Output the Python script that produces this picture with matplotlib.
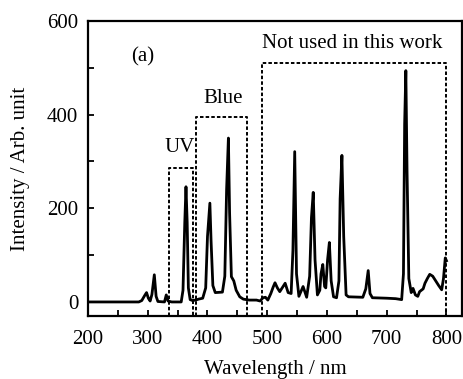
import matplotlib
matplotlib.use("Agg")
import matplotlib.pyplot as plt
from matplotlib.ticker import MultipleLocator

plt.rcParams['font.family'] = ['Liberation Serif', 'DejaVu Serif']

# Spectrum points (wavelength nm, intensity)
wavelength = [200, 260, 285, 290, 295, 298, 301, 304, 307, 311, 314, 317, 328, 331, 334,
              340, 356, 359, 362, 364, 366, 368, 371, 375, 380, 385, 392, 397, 400, 404,
              406, 409, 413, 425, 429, 432, 435, 437, 440, 444, 448, 454, 460, 470, 482,
              488, 493, 497, 501, 506, 510, 513, 517, 521, 526, 530, 535, 540, 543, 546,
              549, 553, 560, 566, 571, 574, 577, 580, 584, 588, 590, 593, 596, 598, 601,
              604, 607, 611, 616, 620, 622, 625, 628, 632, 636, 660, 665, 669, 672, 676,
              700, 715, 725, 728, 730, 732, 734, 737, 741, 744, 748, 752, 755, 758, 761,
              764, 768, 772, 777, 782, 787, 792, 795, 798, 800]
intensity = [0, 0, 0, 3, 14, 20, 8, 2, 16, 58, 12, 1, 0, 15, 2,
             0, 0, 25, 170, 246, 170, 30, 5, 3, 4, 6, 8, 30, 140, 211,
             130, 35, 20, 21, 55, 240, 350, 190, 54, 45, 25, 11, 6, 4, 4,
             2, 9, 10, 4, 18, 32, 41, 30, 22, 32, 40, 20, 18, 110, 321,
             60, 12, 33, 10, 55, 180, 234, 90, 15, 25, 60, 80, 33, 30, 90,
             127, 45, 11, 9, 45, 220, 313, 140, 15, 11, 10, 28, 67, 18, 9,
             8, 7, 5, 60, 380, 494, 280, 50, 20, 29, 15, 12, 22, 25, 28,
             40, 50, 59, 55, 45, 35, 26, 50, 94, 88]

# Dashed region boxes
box_labels = ["UV", "Blue", "Not used in this work"]
box_left = [335, 381, 492]
box_right = [376, 466, 800]
box_top = [286, 396, 510]
label_x = [354, 426, 643]
label_y = [329, 435, 552]

fig = plt.figure(figsize=(4.64, 3.79), dpi=100)
ax = fig.add_axes([88/464, 1-316/379, (462-88)/464, (316-21)/379])

ax.plot(wavelength, intensity, color='black', lw=2.0, solid_joinstyle='round')

ybot = -30
for l, r, t in zip(box_left, box_right, box_top):
    ax.plot([l, l, r, r], [ybot, t, t, ybot], color='black', lw=1.4,
            linestyle=(0, (1.8, 1.1)), clip_on=True)

fs = 15
for s, x, y in zip(box_labels, label_x, label_y):
    ax.text(x, y, s, ha='center', va='center', fontsize=fs)
ax.text(292, 523, "(a)", ha='center', va='center', fontsize=fs)

ax.set_xlim(200, 826)
ax.set_ylim(-30, 600)
ax.xaxis.set_major_locator(MultipleLocator(100))
ax.xaxis.set_minor_locator(MultipleLocator(50))
ax.yaxis.set_major_locator(MultipleLocator(200))
ax.yaxis.set_minor_locator(MultipleLocator(100))
ax.tick_params(which='both', direction='in', labelsize=fs, width=1.3, length=4.5)
ax.tick_params(axis='x', which='major', pad=10)
ax.tick_params(axis='y', which='major', pad=7)
for sp in ax.spines.values():
    sp.set_linewidth(1.6)

ax.set_xlabel("Wavelength / nm", fontsize=fs, labelpad=8)
ax.set_ylabel("Intensity / Arb. unit", fontsize=fs, labelpad=12)

fig.savefig("out.png", dpi=100)
